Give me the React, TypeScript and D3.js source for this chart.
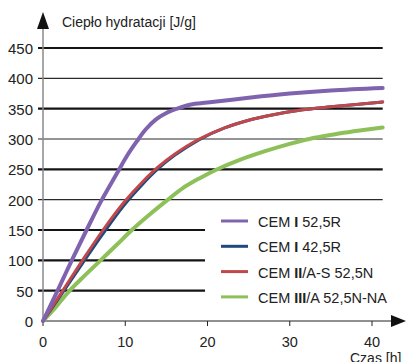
import { useEffect, useRef } from 'react'
import * as d3 from 'd3'

type Pt = [number, number]

const yTicks = [0, 50, 100, 150, 200, 250, 300, 350, 400, 450]
const xTicks = [0, 10, 20, 30, 40]
const thickLines = [450, 350, 250, 150, 100, 50]

const cem1_525R: Pt[] = [
  [0, 0], [1.7, 48], [3.5, 100], [5.3, 150], [7, 196], [8, 220], [9.1, 246],
  [10.2, 272], [11.4, 296], [12.5, 316], [13.7, 332], [15, 343], [16.5, 351],
  [18, 357], [20, 360], [25, 368], [30, 375], [35, 380], [41.3, 384]
]
const cem1_425R: Pt[] = [
  [0, 0], [2.4, 47], [4.8, 95], [7.3, 144], [9.8, 190], [12, 224], [14, 251],
  [16, 273], [19, 299], [22, 318], [25, 331], [28, 340], [31, 347], [35, 353],
  [41.3, 361]
]
const cem2_525N: Pt[] = [
  [0, 0], [2.4, 50], [4.8, 100], [7.3, 150], [9.8, 195], [12, 228], [14, 254],
  [16, 275], [19, 300], [22, 318], [25, 331], [28, 340], [31, 347], [35, 353],
  [41.3, 361]
]
const cem3_525N: Pt[] = [
  [0, 0], [1.5, 22], [3.1, 48], [5, 74], [7, 100], [9, 126], [10.8, 150],
  [13, 176], [15, 198], [17, 219], [19, 235], [21, 249], [24, 266], [27, 280],
  [30, 292], [33, 302], [36, 309], [38.5, 314], [41.3, 319]
]

const series = [
  { name: 'CEM I 52,5R', parts: ['CEM ', 'I', ' 52,5R'], data: cem1_525R, color: '#7f63ae', width: 4 },
  { name: 'CEM I 42,5R', parts: ['CEM ', 'I', ' 42,5R'], data: cem1_425R, color: '#1f4a80', width: 3 },
  { name: 'CEM II/A-S 52,5N', parts: ['CEM ', 'II', '/A-S 52,5N'], data: cem2_525N, color: '#c0484b', width: 3 },
  { name: 'CEM III/A 52,5N-NA', parts: ['CEM ', 'III', '/A 52,5N-NA'], data: cem3_525N, color: '#8ec05a', width: 4 }
]

export default function App() {
  const svgRef = useRef<SVGSVGElement>(null)

  useEffect(() => {
    if (!svgRef.current) return
    const svg = d3.select(svgRef.current)
    svg.selectAll('*').remove()

    const x = d3.scaleLinear().domain([0, 40]).range([43, 372])
    const y = d3.scaleLinear().domain([0, 450]).range([321, 48])
    const font = 'Liberation Sans, Arial, sans-serif'

    // grid
    svg.append('g')
      .selectAll('line')
      .data(yTicks.filter(d => d > 0))
      .enter().append('line')
      .attr('x1', 38)
      .attr('x2', x(41.3))
      .attr('y1', d => y(d))
      .attr('y2', d => y(d))
      .attr('stroke', d => thickLines.includes(d) ? '#141414' : '#2a2a2a')
      .attr('stroke-width', d => thickLines.includes(d) ? 2.2 : 1.2)

    // legend background hides grid behind it
    svg.append('rect')
      .attr('x', 205).attr('y', 207).attr('width', 200).attr('height', 105)
      .attr('fill', '#fff')

    // axes
    svg.append('line')
      .attr('x1', 43).attr('x2', 43).attr('y1', 26).attr('y2', 321)
      .attr('stroke', '#8a8a8a').attr('stroke-width', 1.5)
    svg.append('path')
      .attr('d', 'M43,12 L49,29 L37,29 Z')
      .attr('fill', '#111')

    svg.append('line')
      .attr('x1', 43).attr('x2', 394).attr('y1', 321).attr('y2', 321)
      .attr('stroke', '#222').attr('stroke-width', 1.2)
    svg.append('path')
      .attr('d', 'M406,321 L391,315 L391,327 Z')
      .attr('fill', '#111')

    svg.append('g')
      .selectAll('line')
      .data(xTicks)
      .enter().append('line')
      .attr('x1', d => x(d)).attr('x2', d => x(d))
      .attr('y1', 321).attr('y2', 326)
      .attr('stroke', '#222').attr('stroke-width', 1)

    svg.append('g')
      .selectAll('text')
      .data(yTicks)
      .enter().append('text')
      .attr('x', 33)
      .attr('y', d => y(d) + 6)
      .attr('text-anchor', 'end')
      .attr('font-family', font)
      .attr('font-size', 15)
      .attr('fill', '#222')
      .text(d => d)

    svg.append('g')
      .selectAll('text')
      .data(xTicks)
      .enter().append('text')
      .attr('x', d => x(d))
      .attr('y', 347)
      .attr('text-anchor', 'middle')
      .attr('font-family', font)
      .attr('font-size', 14.5)
      .attr('fill', '#222')
      .text(d => d)

    svg.append('text')
      .attr('x', 62).attr('y', 27)
      .attr('font-family', font).attr('font-size', 14)
      .attr('fill', '#222')
      .text('Ciepło hydratacji [J/g]')

    // the reference crops this label at the bottom edge
    svg.append('text')
      .attr('x', 350).attr('y', 363)
      .attr('font-family', font).attr('font-size', 14)
      .attr('fill', '#222')
      .text('Czas [h]')

    // curves
    const line = d3.line<Pt>()
      .x(d => x(d[0]))
      .y(d => y(d[1]))
      .curve(d3.curveCatmullRom.alpha(0.5))

    const drawOrder = [series[3], series[1], series[2], series[0]]
    svg.append('g')
      .selectAll('path')
      .data(drawOrder)
      .enter().append('path')
      .attr('d', d => line(d.data))
      .attr('fill', 'none')
      .attr('stroke', d => d.color)
      .attr('stroke-width', d => d.width)
      .attr('stroke-linecap', 'round')

    // legend
    const lg = svg.append('g')
    series.forEach((s, i) => {
      const ly = 221 + i * 25.3
      lg.append('line')
        .attr('x1', 221).attr('x2', 248)
        .attr('y1', ly).attr('y2', ly)
        .attr('stroke', s.color).attr('stroke-width', 3)
      const t = lg.append('text')
        .attr('x', 258).attr('y', ly + 6)
        .attr('font-family', font).attr('font-size', 14.5)
        .attr('fill', '#222')
      s.parts.forEach((p, j) => {
        t.append('tspan')
          .attr('font-weight', j === 1 ? 'bold' : 'normal')
          .text(p)
      })
    })
  }, [])

  return (
    <svg
      ref={svgRef}
      width={406}
      height={362}
      style={{ position: 'absolute', left: 0, top: 0, background: '#fff' }}
    />
  )
}
